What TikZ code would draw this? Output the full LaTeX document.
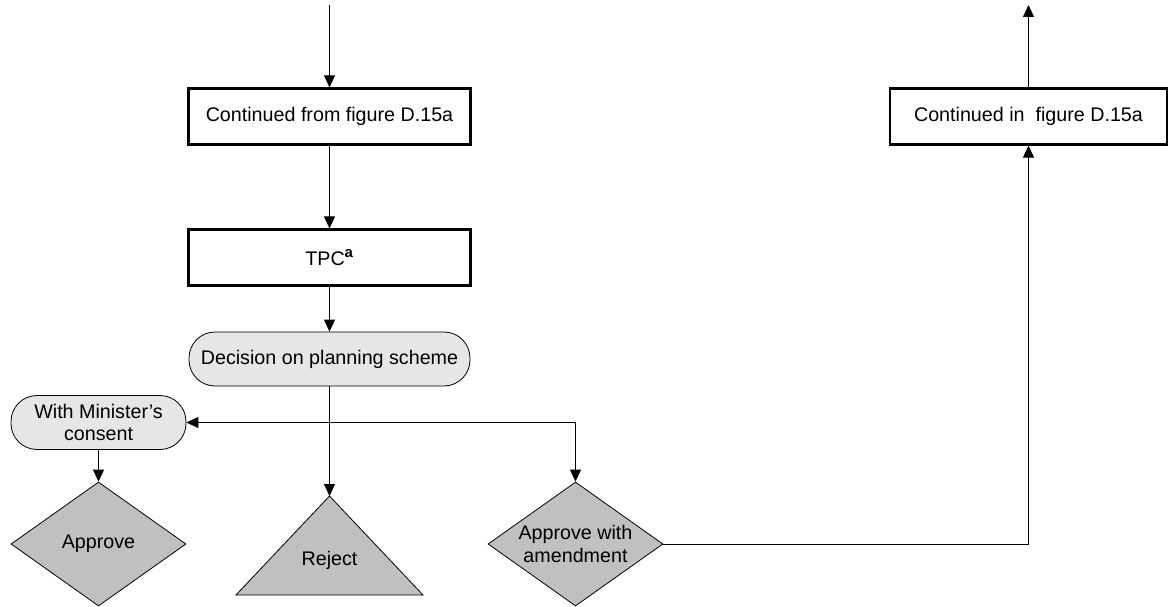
\documentclass[tikz,border=0pt]{standalone}
\usepackage{fontspec}
\setmainfont{Liberation Sans}
\usetikzlibrary{arrows.meta,shapes.geometric}

\begin{document}
\begin{tikzpicture}[x=1pt,y=-1pt,font=\fontsize{19.7}{22.5}\selectfont]

\definecolor{BLACK}{RGB}{0,0,0}
\definecolor{WHITE}{RGB}{255,255,255}
\definecolor{LIGHTGREY}{RGB}{230,230,230}
\definecolor{GREY}{RGB}{192,192,192}
\tikzset{
	box/.style={draw=BLACK, line width=2.2pt, fill=WHITE, minimum height=56pt, inner sep=0pt},
	pill/.style={draw=BLACK, line width=0.8pt, fill=LIGHTGREY, rounded corners=26pt, minimum height=54pt, inner sep=0pt, align=center},
	choice/.style={diamond, draw=BLACK, line width=0.8pt, fill=GREY, minimum width=175pt, minimum height=124pt, inner sep=-12pt, align=center},
	flow/.style={BLACK, line width=0.8pt, -{Triangle[length=12pt,width=11pt]}}
}
\useasboundingbox (0,0) rectangle (1173,607);

\node[box, minimum width=282pt] (from) at (329.5,116.5) {Continued from figure D.15a};
\node[box, minimum width=282pt] (tpc) at (329.5,257.5) {TPC\textsuperscript{\textbf{\fontsize{15}{15}\selectfont a}}};
\node[pill, minimum width=281pt] (decision) at (329.5,359) {Decision on planning scheme};
\node[pill, minimum width=175pt] (consent) at (98.5,422.5) {With Minister's\\consent};
\node[choice] (approve) at (98.5,544) {Approve};
\node[choice] (amend) at (575.5,544) {Approve with\\amendment};
\draw[BLACK, line width=0.8pt, fill=GREY]
	(329.5,496) coordinate (reject apex) -- (423,595) -- (236,595) -- cycle;
\node (reject) at (329.5,560) {Reject};
\node[box, minimum width=277pt] (into) at (1028.5,116.5) {Continued in\ \ figure D.15a};
\coordinate (top in) at (329.5,5);
\coordinate (top out) at (1028.5,5);

\draw[flow] (top in) -- (from);
\draw[flow] (from) -- (tpc);
\draw[flow] (tpc) -- (decision);
\draw[flow] (decision) -- (reject apex);
\draw[flow] (decision.south |- consent.east) -- (consent.east);
\draw[flow] (decision.south |- consent.east) -| (amend.north);
\draw[flow] (consent) -- (approve);
\draw[flow] (amend.east) -| (into.south);
\draw[flow] (into) -- (top out);
\end{tikzpicture}
\end{document}
